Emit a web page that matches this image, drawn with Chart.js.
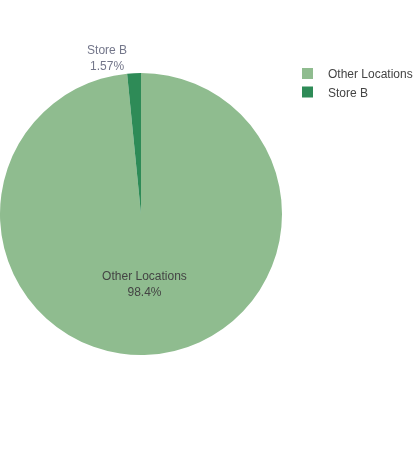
<!DOCTYPE html>
<html>
<head>
<meta charset="utf-8">
<script src="https://cdn.jsdelivr.net/npm/chart.js@4/dist/chart.umd.min.js"></script>
<style>
  html, body { margin: 0; padding: 0; background: #fff; }
  #wrap { position: relative; width: 414px; height: 450px; }
</style>
</head>
<body>
<div id="wrap"><canvas id="c" width="414" height="450"></canvas></div>
<script>
const categories = ["Other Locations", "Store B"];
const values = [98.43, 1.57];
const colors = ["#8fbc8f", "#2e8b57"];

const FONT = '12px "Liberation Sans", Arial, sans-serif';

function pctText(v, total) {
  const p = v / total * 100;
  return Number(p.toPrecision(3)) + "%";
}

const labelPlugin = {
  id: 'pieLabels',
  afterDatasetsDraw(chart) {
    const ctx = chart.ctx;
    const meta = chart.getDatasetMeta(0);
    const total = values.reduce((a, b) => a + b, 0);
    ctx.save();
    ctx.font = FONT;
    ctx.textBaseline = 'middle';
    meta.data.forEach((arc, i) => {
      const p = arc.getProps(['x', 'y', 'startAngle', 'endAngle', 'outerRadius'], true);
      const mid = (p.startAngle + p.endAngle) / 2;
      const frac = values[i] / total;
      const txt = pctText(values[i], total);
      if (frac > 0.1) {
        const r = p.outerRadius * 0.5;
        const x = p.x + r * Math.cos(mid);
        const y = p.y + r * Math.sin(mid);
        ctx.fillStyle = '#444';
        ctx.textAlign = 'center';
        ctx.fillText(categories[i], x, y - 7.5);
        ctx.fillText(txt, x, y + 8.5);
      } else {
        const ex = p.x + p.outerRadius * Math.cos(p.startAngle);
        const ey = p.y + p.outerRadius * Math.sin(mid);
        ctx.fillStyle = '#73768a';
        ctx.textAlign = 'center';
        const w = Math.max(ctx.measureText(categories[i]).width, ctx.measureText(txt).width);
        const cx = ex - w / 2;
        ctx.fillText(categories[i], cx, ey - 22);
        ctx.fillText(txt, cx, ey - 6);
      }
    });
    // legend
    ctx.textAlign = 'left';
    categories.forEach((c, i) => {
      const y0 = 68 + i * 18.5;
      ctx.fillStyle = colors[i];
      ctx.fillRect(302, y0, 11, 11);
      ctx.fillStyle = '#444';
      ctx.fillText(c, 328, y0 + 7);
    });
    ctx.restore();
  }
};

new Chart(document.getElementById('c'), {
  type: 'pie',
  data: {
    labels: categories,
    datasets: [{
      data: values,
      backgroundColor: colors,
      borderWidth: 0
    }]
  },
  options: {
    responsive: false,
    animation: false,
    rotation: 0,
    layout: { padding: { left: 0, right: 132, top: 73, bottom: 95 } },
    plugins: {
      legend: { display: false },
      tooltip: { enabled: false }
    }
  },
  plugins: [labelPlugin]
});
</script>
</body>
</html>
